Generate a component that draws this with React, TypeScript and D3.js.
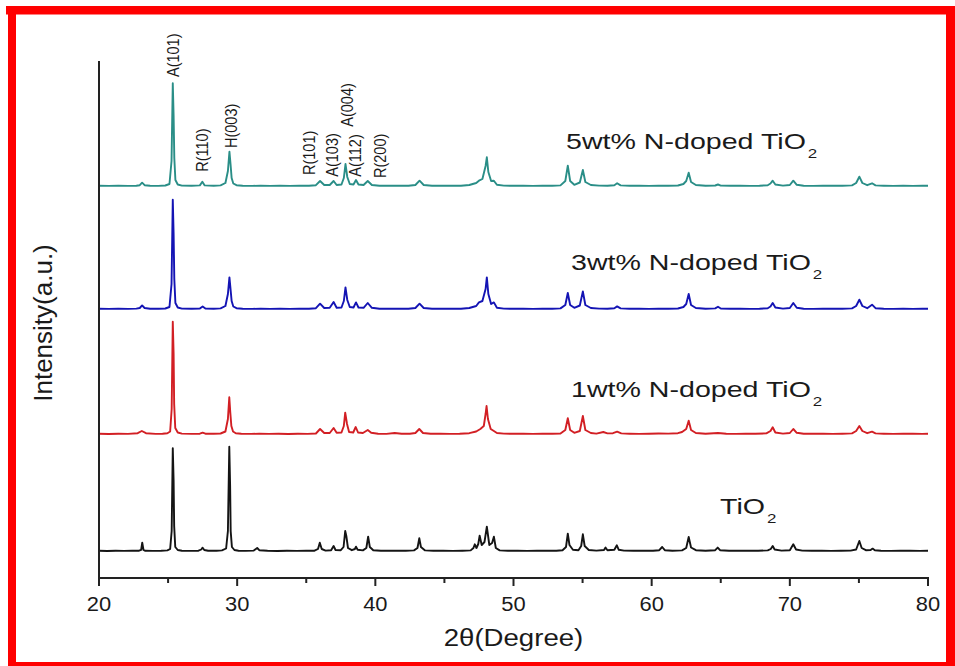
import * as d3 from "d3";

type Pt = [number, number];

// x axis (2θ, degree)
const X_TICKS = [20, 30, 40, 50, 60, 70, 80];
const X_MINOR = [25, 35, 45, 55, 65, 75];

// series, bottom to top
const SERIES_NAMES = ["TiO2", "1wt% N-doped TiO2", "3wt% N-doped TiO2", "5wt% N-doped TiO2"];
const SERIES_COLORS = ["#141414", "#d21f24", "#1414b4", "#2a8e87"];
const SERIES_OFFSETS = [270, 1440, 2690, 3920];

// [2θ, intensity above the series baseline]
const tio2: Pt[] = [
  [20.0, 2], [20.6, 0], [21.2, 3], [21.8, 1], [22.4, 2], [22.9, 3], [23.05, 12], [23.13, 83], [23.22, 10], [23.35, 2],
  [23.9, 1], [24.5, 3], [24.95, 6], [25.15, 20], [25.26, 200], [25.34, 1027], [25.4, 700], [25.44, 250], [25.52, 40],
  [25.7, 10], [26.0, 3], [26.6, 1], [27.2, 3], [27.4, 15], [27.5, 33], [27.62, 10], [27.9, 2], [28.5, 3], [28.9, 6],
  [29.2, 25], [29.33, 200], [29.43, 1043], [29.49, 650], [29.53, 200], [29.62, 40], [29.8, 10], [30.1, 3], [30.6, 1],
  [31.2, 4], [31.45, 30], [31.6, 8], [32.2, 2], [32.9, 0], [33.6, 3], [34.3, 1], [35.0, 2], [35.6, 3], [35.85, 20],
  [35.98, 83], [36.12, 20], [36.4, 4], [36.8, 8], [36.98, 50], [37.12, 10], [37.5, 8], [37.7, 40], [37.82, 200],
  [37.9, 150], [38.02, 30], [38.3, 8], [38.52, 20], [38.6, 43], [38.72, 12], [39.1, 6], [39.35, 30], [39.48, 143],
  [39.6, 40], [39.85, 8], [40.4, 2], [41.0, 4], [41.6, 2], [42.2, 3], [42.8, 6], [43.05, 30], [43.18, 127], [43.3, 40],
  [43.6, 6], [44.2, 2], [44.9, 3], [45.6, 1], [46.3, 3], [46.9, 6], [47.1, 30], [47.2, 67], [47.32, 30], [47.45, 70],
  [47.55, 153], [47.7, 60], [47.9, 90], [48.07, 243], [48.25, 60], [48.45, 80], [48.58, 143], [48.72, 30], [49.0, 6],
  [49.6, 2], [50.3, 3], [51.0, 1], [51.7, 3], [52.4, 2], [53.1, 3], [53.55, 8], [53.8, 40], [53.93, 174], [54.05, 60],
  [54.3, 12], [54.7, 8], [54.9, 50], [55.02, 167], [55.15, 50], [55.45, 10], [56.0, 4], [56.55, 10], [56.66, 34],
  [56.8, 8], [57.3, 12], [57.48, 57], [57.62, 12], [58.0, 4], [58.7, 2], [59.4, 3], [60.1, 2], [60.55, 8], [60.76, 40],
  [60.95, 8], [61.5, 3], [62.2, 6], [62.5, 30], [62.68, 140], [62.85, 35], [63.2, 8], [63.9, 3], [64.6, 8], [64.78, 34],
  [64.95, 8], [65.6, 3], [66.3, 2], [67.0, 3], [67.7, 2], [68.4, 6], [68.62, 20], [68.76, 50], [68.9, 15], [69.4, 4],
  [70.0, 8], [70.25, 67], [70.45, 15], [70.9, 4], [71.6, 2], [72.3, 3], [73.0, 1], [73.7, 3], [74.4, 4], [74.8, 15],
  [75.03, 100], [75.2, 30], [75.5, 8], [75.85, 10], [75.99, 24], [76.15, 8], [76.6, 3], [77.3, 1], [78.0, 3], [78.7, 2],
  [79.4, 1], [80.0, 2],
];

const n1: Pt[] = [
  [20.0, 2], [20.7, 0], [21.4, 2], [22.1, 1], [22.8, 8], [23.1, 30], [23.4, 8], [24.1, 1], [24.6, 3], [24.95, 8],
  [25.15, 25], [25.26, 250], [25.34, 1123], [25.4, 800], [25.44, 300], [25.52, 60], [25.7, 15], [26.0, 4], [26.7, 1],
  [27.3, 3], [27.5, 13], [27.7, 3], [28.3, 2], [28.8, 5], [29.15, 25], [29.33, 150], [29.43, 367], [29.5, 220],
  [29.58, 80], [29.7, 25], [29.9, 8], [30.3, 3], [31.0, 1], [31.6, 3], [32.3, 1], [33.0, 2], [33.7, 0], [34.4, 2],
  [35.1, 1], [35.7, 5], [36.0, 50], [36.3, 10], [36.7, 10], [36.98, 60], [37.2, 12], [37.55, 15], [37.72, 80],
  [37.82, 213], [37.95, 100], [38.1, 20], [38.4, 15], [38.58, 70], [38.75, 15], [39.1, 10], [39.45, 40], [39.7, 12],
  [40.2, 3], [40.8, 1], [41.4, 10], [41.9, 3], [42.5, 2], [42.9, 10], [43.18, 50], [43.45, 10], [44.0, 2], [44.7, 4],
  [45.4, 1], [46.1, 3], [46.8, 8], [47.3, 25], [47.6, 50], [47.85, 80], [47.98, 200], [48.05, 280], [48.15, 150],
  [48.35, 50], [48.58, 30], [48.8, 10], [49.3, 4], [50.0, 2], [50.7, 3], [51.4, 1], [52.1, 3], [52.8, 2], [53.4, 5],
  [53.75, 40], [53.93, 157], [54.1, 40], [54.4, 12], [54.8, 30], [55.02, 180], [55.2, 40], [55.6, 10], [56.0, 4],
  [56.5, 20], [56.8, 6], [57.2, 8], [57.5, 23], [57.8, 6], [58.4, 3], [59.1, 1], [59.8, 3], [60.5, 5], [61.2, 4],
  [61.9, 8], [62.2, 20], [62.5, 50], [62.68, 133], [62.85, 40], [63.2, 10], [63.9, 3], [64.8, 10], [65.4, 3],
  [66.1, 1], [66.8, 3], [67.5, 2], [68.3, 6], [68.6, 30], [68.76, 67], [68.95, 15], [69.5, 4], [70.0, 10],
  [70.25, 50], [70.5, 12], [71.0, 3], [71.7, 2], [72.4, 3], [73.1, 1], [73.8, 3], [74.5, 6], [74.8, 30], [75.03, 80],
  [75.25, 30], [75.6, 8], [75.95, 23], [76.2, 6], [76.8, 3], [77.5, 1], [78.2, 3], [78.9, 2], [79.6, 1], [80.0, 2],
];

const n3: Pt[] = [
  [20.0, 3], [20.7, 1], [21.4, 3], [22.1, 1], [22.7, 4], [22.95, 10], [23.12, 36], [23.3, 10], [23.7, 3], [24.3, 2],
  [24.8, 5], [25.1, 20], [25.25, 250], [25.34, 1093], [25.4, 750], [25.45, 300], [25.53, 60], [25.7, 15], [26.0, 4],
  [26.7, 2], [27.3, 5], [27.5, 26], [27.7, 5], [28.3, 2], [28.8, 6], [29.15, 30], [29.33, 150], [29.44, 316],
  [29.52, 200], [29.6, 80], [29.72, 25], [29.95, 8], [30.4, 3], [31.1, 1], [31.7, 3], [32.4, 1], [33.1, 3], [33.8, 1],
  [34.5, 3], [35.2, 2], [35.7, 8], [36.0, 53], [36.3, 10], [36.7, 12], [36.98, 70], [37.2, 12], [37.55, 15],
  [37.72, 80], [37.84, 216], [37.97, 90], [38.15, 20], [38.42, 15], [38.6, 66], [38.78, 15], [39.15, 12], [39.45, 60],
  [39.75, 12], [40.3, 3], [41.0, 2], [41.7, 4], [42.4, 2], [42.9, 10], [43.2, 53], [43.5, 10], [44.1, 3], [44.8, 2],
  [45.5, 3], [46.2, 2], [46.8, 10], [47.3, 30], [47.5, 66], [47.75, 80], [47.98, 200], [48.07, 316], [48.18, 150],
  [48.38, 50], [48.58, 66], [48.8, 12], [49.3, 4], [50.0, 2], [50.7, 3], [51.4, 1], [52.1, 3], [52.8, 2], [53.4, 6],
  [53.75, 40], [53.93, 160], [54.1, 40], [54.4, 12], [54.8, 35], [55.02, 176], [55.2, 40], [55.6, 10], [56.2, 4],
  [56.8, 3], [57.3, 8], [57.5, 26], [57.75, 6], [58.4, 2], [59.1, 3], [59.8, 1], [60.5, 4], [61.2, 2], [61.9, 5],
  [62.3, 20], [62.5, 50], [62.68, 150], [62.85, 40], [63.2, 10], [63.9, 3], [64.6, 6], [64.8, 23], [65.0, 5],
  [65.7, 2], [66.4, 3], [67.1, 1], [67.8, 3], [68.4, 8], [68.6, 25], [68.76, 60], [68.95, 15], [69.5, 4], [70.0, 10],
  [70.25, 60], [70.5, 12], [71.0, 3], [71.7, 1], [72.4, 3], [73.1, 2], [73.8, 3], [74.5, 6], [74.8, 30], [75.03, 93],
  [75.25, 30], [75.6, 8], [75.95, 43], [76.2, 8], [76.8, 3], [77.5, 1], [78.2, 3], [78.9, 1], [79.6, 2], [80.0, 2],
];

const n5: Pt[] = [
  [20.0, 2], [20.7, 1], [21.4, 3], [22.1, 1], [22.7, 3], [22.95, 8], [23.12, 33], [23.3, 8], [23.7, 3], [24.3, 1],
  [24.8, 5], [25.1, 20], [25.25, 250], [25.34, 1027], [25.4, 700], [25.45, 280], [25.53, 60], [25.7, 15], [26.0, 4],
  [26.7, 2], [27.3, 6], [27.48, 43], [27.65, 6], [28.3, 3], [28.8, 6], [29.15, 30], [29.33, 150], [29.44, 343],
  [29.52, 220], [29.6, 80], [29.72, 25], [29.95, 8], [30.4, 3], [31.1, 1], [31.7, 3], [32.4, 1], [33.1, 3], [33.8, 1],
  [34.5, 3], [35.2, 2], [35.7, 8], [36.0, 50], [36.3, 10], [36.7, 10], [36.98, 50], [37.2, 10], [37.55, 15],
  [37.72, 80], [37.84, 220], [37.97, 90], [38.15, 20], [38.42, 15], [38.6, 60], [38.78, 15], [39.15, 10], [39.45, 50],
  [39.75, 10], [40.3, 3], [41.0, 2], [41.7, 4], [42.4, 2], [42.9, 10], [43.2, 53], [43.5, 10], [44.1, 3], [44.8, 2],
  [45.5, 3], [46.2, 2], [46.8, 10], [47.3, 30], [47.5, 53], [47.75, 70], [47.98, 200], [48.07, 287], [48.18, 140],
  [48.38, 50], [48.58, 53], [48.8, 12], [49.3, 4], [50.0, 2], [50.7, 3], [51.4, 1], [52.1, 3], [52.8, 2], [53.4, 6],
  [53.75, 50], [53.93, 203], [54.1, 50], [54.4, 12], [54.8, 35], [55.02, 160], [55.2, 40], [55.6, 10], [56.2, 4],
  [56.8, 3], [57.3, 8], [57.5, 27], [57.75, 6], [58.4, 2], [59.1, 3], [59.8, 1], [60.5, 4], [61.2, 2], [61.9, 5],
  [62.3, 20], [62.5, 50], [62.68, 133], [62.85, 40], [63.2, 10], [63.9, 3], [64.6, 5], [64.8, 15], [65.0, 4],
  [65.7, 2], [66.4, 3], [67.1, 1], [67.8, 3], [68.4, 8], [68.6, 25], [68.76, 53], [68.95, 15], [69.5, 4], [70.0, 10],
  [70.25, 53], [70.5, 12], [71.0, 3], [71.7, 1], [72.4, 3], [73.1, 2], [73.8, 3], [74.5, 6], [74.8, 30], [75.03, 93],
  [75.25, 30], [75.6, 8], [75.95, 27], [76.2, 6], [76.8, 3], [77.5, 1], [78.2, 3], [78.9, 1], [79.6, 2], [80.0, 2],
];

const SERIES_DATA = [tio2, n1, n3, n5];

// peak assignments written above the 5wt% pattern
const PEAK_LABELS = ["A(101)", "R(110)", "H(003)", "R(101)", "A(103)", "A(004)", "A(112)", "R(200)"];
const PEAK_LABEL_2THETA = [25.35, 27.47, 29.54, 35.21, 36.83, 37.91, 38.51, 40.32];
const PEAK_LABEL_LEVEL = [1090, 143, 380, 110, 93, 593, 93, 80];

const W = 955;
const H = 666;
const FONT = "'Liberation Sans', Arial, Helvetica, sans-serif";

export default function App() {
  const m = { left: 99, right: 928, top: 61, bottom: 578 };
  const x = d3.scaleLinear().domain([20, 80]).range([m.left, m.right]);
  const y = d3.scaleLinear().domain([0, 5170]).range([m.bottom, m.top]);

  // series label placement (start x, baseline y) in pixels
  const labelPos = [
    [720, 514],
    [571, 397],
    [571, 270],
    [566, 149],
  ];

  return (
    <svg
      width={W}
      height={H}
      viewBox={`0 0 ${W} ${H}`}
      style={{ position: "absolute", left: 0, top: 0, background: "#fff", fontFamily: FONT }}
    >
      <rect width={W} height={H} fill="#fff" />

      {/* red frame */}
      <rect x={6} y={6} width={W - 6} height={8.5} fill="#ff0000" />
      <rect x={8} y={6} width={8} height={H - 6} fill="#ff0000" />
      <rect x={946} y={6} width={9} height={H - 6} fill="#ff0000" />
      <rect x={8} y={662} width={W - 8} height={4} fill="#ff0000" />

      {/* patterns */}
      {SERIES_DATA.map((data, i) => {
        const off = SERIES_OFFSETS[i];
        const line = d3
          .line<Pt>()
          .x((d) => x(d[0]))
          .y((d) => y(d[1] + off));
        return (
          <path
            key={i}
            d={line(data) ?? ""}
            fill="none"
            stroke={SERIES_COLORS[i]}
            strokeWidth={1.9}
            strokeLinejoin="round"
          />
        );
      })}

      {/* peak labels */}
      {PEAK_LABELS.map((lab, i) => {
        const px = x(PEAK_LABEL_2THETA[i]);
        const py = y(PEAK_LABEL_LEVEL[i] + SERIES_OFFSETS[3]);
        return (
          <text
            key={lab + i}
            transform={`translate(${px},${py}) rotate(-90) scale(1,1.2)`}
            dy="0.36em"
            fontSize={14.5}
            fill="#1a1a1a"
          >
            {lab}
          </text>
        );
      })}

      {/* series labels */}
      {SERIES_NAMES.map((name, i) => (
        <g key={name} transform={`translate(${labelPos[i][0]},${labelPos[i][1]}) scale(1.3,1)`}>
          <text fontSize={22} fill="#1a1a1a">
            {name.slice(0, -1)}
            <tspan dx={1.5} dy={9} fontSize={13}>
              {name.slice(-1)}
            </tspan>
          </text>
        </g>
      ))}

      {/* axes */}
      <line x1={m.left} x2={m.left} y1={m.top} y2={m.bottom} stroke="#222" strokeWidth={2} />
      <line x1={m.left - 1} x2={m.right + 1} y1={m.bottom} y2={m.bottom} stroke="#222" strokeWidth={2} />
      {X_TICKS.map((t) => (
        <g key={t} transform={`translate(${x(t)},${m.bottom})`}>
          <line y1={0} y2={8} stroke="#222" strokeWidth={2} />
          <text y={33} textAnchor="middle" fontSize={20.5} fill="#1a1a1a" transform="scale(1.07,1)">
            {t}
          </text>
        </g>
      ))}
      {X_MINOR.map((t) => (
        <line key={t} x1={x(t)} x2={x(t)} y1={m.bottom} y2={m.bottom + 5} stroke="#222" strokeWidth={2} />
      ))}
      <g transform={`translate(${(m.left + m.right) / 2},${646}) scale(1.15,1)`}>
        <text textAnchor="middle" fontSize={24} fill="#1a1a1a">
          2θ(Degree)
        </text>
      </g>
      <text
        transform={`translate(52,323) rotate(-90)`}
        textAnchor="middle"
        fontSize={26}
        fill="#1a1a1a"
      >
        Intensity(a.u.)
      </text>
    </svg>
  );
}
